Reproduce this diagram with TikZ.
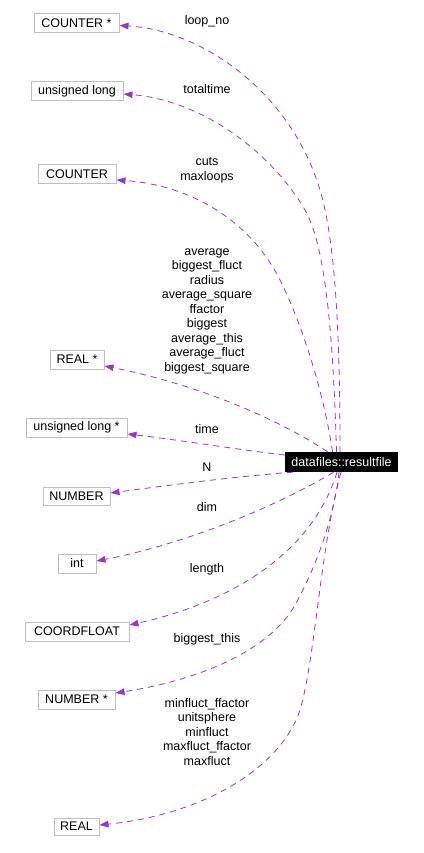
\documentclass[tikz,border=0pt]{standalone}
\usepackage{fontspec}
\setmainfont{Liberation Sans}
\usetikzlibrary{arrows.meta,calc}
\definecolor{edgec}{HTML}{9A32CD}
\definecolor{boxc}{HTML}{BFBFBF}
\begin{document}
\begin{tikzpicture}[x=1pt,y=-1pt,
  font=\fontsize{12.5}{14.5}\selectfont,
  typebox/.style={draw=boxc, line width=1pt, inner sep=0pt, minimum height=19pt, text=black},
  mainbox/.style={fill=black, text=white, inner sep=0pt, minimum width=113pt, minimum height=20pt},
  lbl/.style={align=center, inner sep=0pt, text=black},
  edge/.style={draw=edgec, line width=0.8pt, dash pattern=on 6pt off 5pt,
    -{Triangle[length=9pt,width=6.5pt]}, edgec}]
\useasboundingbox (0,0) rectangle (423,853);
% nodes
\node[mainbox] (rf) at (341.5,462) {datafiles::resultfile};
\node[typebox, minimum width=85pt] (cs) at (76.5,23.5) {COUNTER *};
\node[typebox, minimum width=92pt] (ul) at (77,91.5) {unsigned long};
\node[typebox, minimum width=78pt] (c) at (77,174) {COUNTER};
\node[typebox, minimum width=54pt] (rs) at (77,359.5) {REAL *};
\node[typebox, minimum width=101pt] (uls) at (76.5,427.5) {unsigned long *};
\node[typebox, minimum width=67pt, minimum height=18pt] (num) at (76.5,496) {NUMBER};
\node[typebox, minimum width=38pt] (int) at (77,563.5) {int};
\node[typebox, minimum width=104pt] (cf) at (77,631.5) {COORDFLOAT};
\node[typebox, minimum width=77pt] (nums) at (76.5,699.5) {NUMBER *};
\node[typebox, minimum width=45pt, minimum height=17pt] (real) at (76.5,826.5) {REAL};
% labels
\node[lbl] (l1) at (207,21) {loop\_no};
\node[lbl] (l2) at (207,89) {totaltime};
\node[lbl] (l3) at (207,170.5) {cuts\\maxloops};
\node[lbl] (l4) at (207,311) {average\\biggest\_fluct\\radius\\average\_square\\ffactor\\biggest\\average\_this\\average\_fluct\\biggest\_square};
\node[lbl] (l5) at (207,429) {time};
\node[lbl] (l6) at (207,467) {N};
\node[lbl] (l7) at (207,507) {dim};
\node[lbl] (l8) at (207,569) {length};
\node[lbl] (l9) at (207,639) {biggest\_this};
\node[lbl] (l10) at (207,732) {minfluct\_ffactor\\unitsphere\\minfluct\\maxfluct\_ffactor\\maxfluct};
% edges
\draw[edge] ($(rf.north)+(-1.5,0)$) .. controls (340,330) and (335,240) .. (320,190)
  .. controls (290,90) and (200,30) .. ($(cs.east)+(0,2)$);
\draw[edge] ($(rf.north)+(-5,0)$) .. controls (333,330) and (325,245) .. (305,210)
  .. controls (270,150) and (200,100) .. ($(ul.east)+(0,2.5)$);
\draw[edge] ($(rf.north)+(-9,0)$) .. controls (325,400) and (305,330) .. (280,280)
  .. controls (250,220) and (190,185) .. ($(c.east)+(0,6)$);
\draw[edge] ($(rf.north)+(-14,0)$) .. controls (280,420) and (200,385) .. ($(rs.east)+(0,6.5)$);
\draw[edge] ($(rf.west)+(0,-7)$) .. controls (240,450) and (180,440) .. ($(uls.east)+(0,6.5)$);
\draw[edge] ($(rf.south west)+(8,0)$) .. controls (240,476) and (170,485) .. ($(num.east)+(0,-3)$);
\draw[edge] ($(rf.south)+(-8,0)$) .. controls (270,510) and (180,545) .. ($(int.east)+(0,-2.5)$);
\draw[edge] ($(rf.south)+(-4.5,0)$) .. controls (310,560) and (220,605) .. ($(cf.east)+(0,-6.5)$);
\draw[edge] ($(rf.south)+(-2.5,0)$) .. controls (335,510) and (320,560) .. (295,605)
  .. controls (270,650) and (200,680) .. ($(nums.east)+(0,-6.5)$);
\draw[edge] ($(rf.south)+(-0.5,0)$) .. controls (320,550) and (315,660) .. (300,710)
  .. controls (280,770) and (200,815) .. ($(real.east)+(0,-1.5)$);
\end{tikzpicture}
\end{document}
